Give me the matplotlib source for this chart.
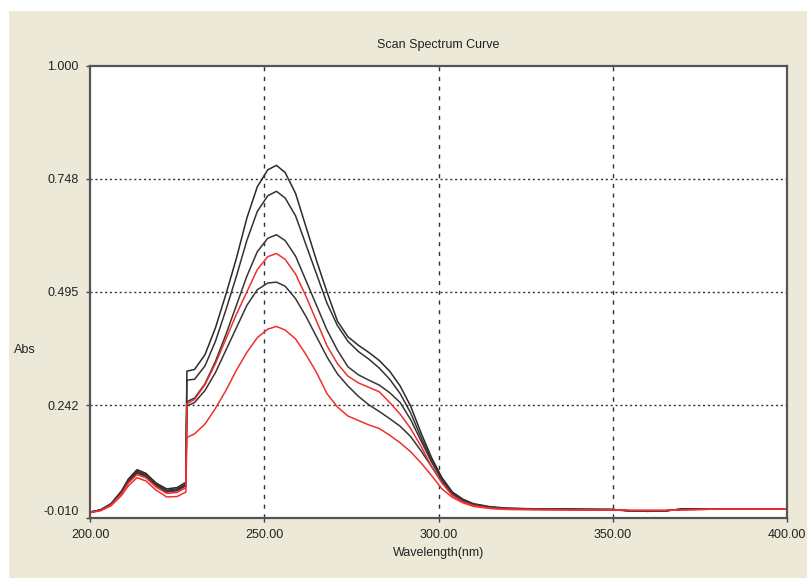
import numpy as np
import matplotlib
matplotlib.use("Agg")
from matplotlib import pyplot as plt
from matplotlib.patches import Rectangle

# wavelength points (nm)
wl = [200, 203, 206, 209, 211, 213.5, 216, 219, 222, 225, 227.5, 227.8, 230, 233, 236, 239, 242, 245, 248, 251,
      253.5, 256, 259, 262, 265, 268, 271, 274, 277, 280, 283, 286, 289, 292, 295, 298, 301, 304, 307, 310,
      315, 320, 330, 340, 350, 355, 360, 365, 370, 375, 380, 390, 400]

# absorbance of each scan
abs_a = [0.003, 0.008, 0.022, 0.050, 0.077, 0.098, 0.090, 0.068, 0.055, 0.058, 0.070, 0.318, 0.322, 0.355, 0.415,
         0.490, 0.570, 0.660, 0.730, 0.768, 0.778, 0.762, 0.715, 0.640, 0.565, 0.495, 0.430, 0.395, 0.376, 0.360,
         0.342, 0.318, 0.285, 0.240, 0.180, 0.125, 0.080, 0.048, 0.032, 0.022, 0.015, 0.012, 0.010, 0.010, 0.009,
         0.006, 0.005, 0.006, 0.010, 0.010, 0.010, 0.010, 0.010]
abs_b = [0.003, 0.008, 0.021, 0.048, 0.075, 0.095, 0.087, 0.066, 0.052, 0.055, 0.066, 0.298, 0.300, 0.330, 0.385,
         0.455, 0.530, 0.610, 0.675, 0.710, 0.720, 0.705, 0.665, 0.600, 0.535, 0.470, 0.420, 0.385, 0.362, 0.345,
         0.325, 0.300, 0.268, 0.225, 0.170, 0.120, 0.077, 0.046, 0.030, 0.021, 0.014, 0.011, 0.010, 0.009, 0.009,
         0.006, 0.005, 0.006, 0.010, 0.010, 0.010, 0.010, 0.010]
abs_c = [0.003, 0.008, 0.021, 0.047, 0.073, 0.093, 0.085, 0.064, 0.050, 0.053, 0.064, 0.250, 0.258, 0.290, 0.340,
         0.400, 0.465, 0.530, 0.585, 0.615, 0.623, 0.610, 0.575, 0.520, 0.465, 0.410, 0.365, 0.328, 0.310, 0.298,
         0.287, 0.270, 0.248, 0.210, 0.162, 0.115, 0.075, 0.045, 0.030, 0.020, 0.014, 0.011, 0.010, 0.009, 0.008,
         0.006, 0.005, 0.006, 0.010, 0.010, 0.010, 0.010, 0.010]
abs_d = [0.002, 0.007, 0.019, 0.044, 0.068, 0.087, 0.080, 0.059, 0.045, 0.047, 0.058, 0.245, 0.255, 0.288, 0.335,
         0.390, 0.445, 0.495, 0.545, 0.574, 0.581, 0.568, 0.535, 0.485, 0.430, 0.375, 0.335, 0.307, 0.292, 0.282,
         0.272, 0.248, 0.222, 0.190, 0.150, 0.105, 0.068, 0.040, 0.026, 0.018, 0.012, 0.010, 0.009, 0.008, 0.008,
         0.007, 0.007, 0.007, 0.008, 0.009, 0.010, 0.010, 0.010]
abs_e = [0.003, 0.008, 0.020, 0.046, 0.071, 0.090, 0.083, 0.062, 0.048, 0.051, 0.062, 0.240, 0.248, 0.275, 0.315,
         0.365, 0.415, 0.465, 0.500, 0.515, 0.517, 0.508, 0.480, 0.440, 0.395, 0.350, 0.312, 0.285, 0.262, 0.243,
         0.228, 0.212, 0.195, 0.172, 0.140, 0.105, 0.070, 0.042, 0.028, 0.019, 0.013, 0.011, 0.010, 0.009, 0.009,
         0.006, 0.005, 0.006, 0.010, 0.010, 0.010, 0.010, 0.010]
abs_f = [0.002, 0.006, 0.017, 0.040, 0.062, 0.080, 0.073, 0.052, 0.037, 0.038, 0.048, 0.170, 0.178, 0.200, 0.235,
         0.275, 0.320, 0.360, 0.393, 0.412, 0.418, 0.410, 0.390, 0.355, 0.315, 0.268, 0.238, 0.218, 0.208, 0.198,
         0.190, 0.175, 0.158, 0.138, 0.113, 0.085, 0.055, 0.036, 0.024, 0.016, 0.011, 0.009, 0.008, 0.008, 0.008,
         0.007, 0.007, 0.007, 0.008, 0.009, 0.010, 0.010, 0.010]

scans = [abs_a, abs_b, abs_c, abs_e, abs_d, abs_f]
colors = ["#2a2a2a", "#3a3030", "#3d3333", "#3d3333", "#f03030", "#f03030"]

xticks = [200, 250, 300, 350, 400]
yticks = [-0.010, 0.242, 0.495, 0.748, 1.000]

plt.rcParams['font.family'] = ['Liberation Sans', 'DejaVu Sans']

fig = plt.figure(figsize=(8.07, 5.78), dpi=100, facecolor="#ECE9D8")
# white strip along top and left edges
fig.patches.append(Rectangle((0, 1 - 10 / 578), 1, 10 / 578, transform=fig.transFigure, color="white", zorder=0))
fig.patches.append(Rectangle((0, 0), 8 / 807, 1, transform=fig.transFigure, color="white", zorder=0))

ax = fig.add_axes([90 / 807, 60 / 578, 697 / 807, 452 / 578])
ax.set_facecolor("white")

for s, c in zip(scans, colors):
	ax.plot(wl, s, color=c, lw=1.1)

ax.set_xlim(200, 400)
ax.set_ylim(-0.010, 1.000)
ax.set_xticks(xticks)
ax.set_xticklabels([f"{t:.2f}" for t in xticks])
ax.set_yticks(yticks)
ax.set_yticklabels([f"{t:.3f}" for t in yticks])
ax.get_yticklabels()[0].set_va("bottom")
ax.tick_params(length=3, width=1, color="#444444", labelsize=9, pad=5, labelcolor="#222222")

for x in xticks[1:-1]:
	ax.axvline(x, color="#333333", lw=1.0, ls=(0, (3, 4)), zorder=0)
for y in yticks[1:-1]:
	ax.axhline(y, color="#333333", lw=1.0, ls=(0, (1.5, 2)), zorder=0)

for sp in ax.spines.values():
	sp.set_linewidth(1.6)
	sp.set_color("#555555")

ax.set_title("Scan Spectrum Curve", fontsize=9, color="#222222", pad=13)
ax.set_xlabel("Wavelength(nm)", fontsize=9, color="#222222", labelpad=4)
fig.text(25 / 807, 1 - 350 / 578, "Abs", fontsize=9, color="#222222", ha="center", va="center")

fig.savefig("out.png", dpi=100, facecolor=fig.get_facecolor())
